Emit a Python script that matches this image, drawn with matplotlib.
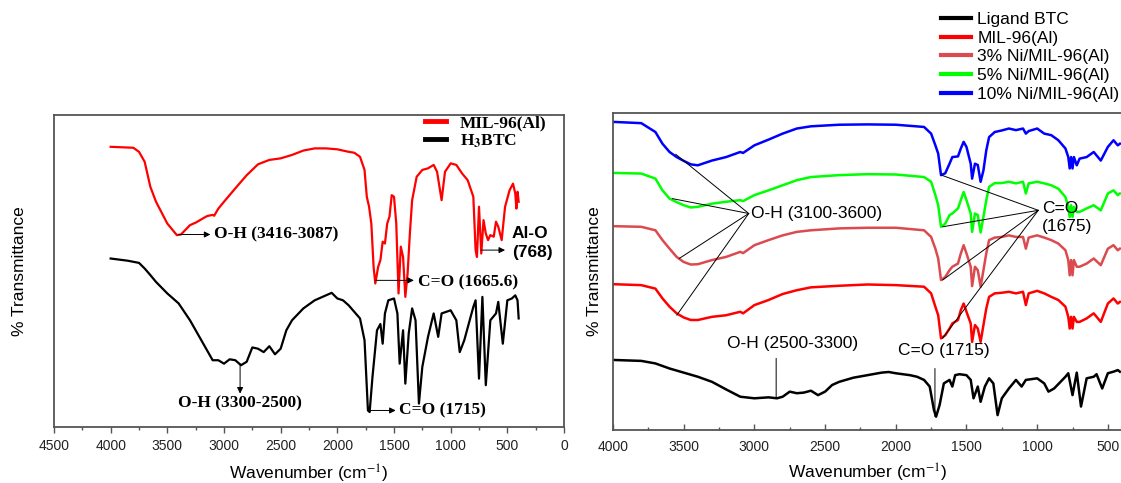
import matplotlib
matplotlib.use("Agg")
from matplotlib import pyplot as plt
from matplotlib.ticker import MultipleLocator

plt.rcParams["font.family"] = ["Liberation Sans", "DejaVu Sans"]
plt.rcParams["mathtext.fontset"] = "stix"

# left panel: MIL-96(Al) and H3BTC
mil_wn = [4000, 3800, 3750, 3700, 3650, 3600, 3500, 3416, 3380, 3300,
          3250, 3150, 3100, 3087, 3050, 3000, 2900, 2800, 2700, 2600,
          2500, 2400, 2300, 2200, 2100, 2000, 1900, 1850, 1800, 1760,
          1740, 1720, 1700, 1680, 1665, 1640, 1620, 1600, 1580, 1560,
          1540, 1520, 1500, 1480, 1460, 1440, 1420, 1400, 1380, 1360,
          1340, 1300, 1250, 1200, 1150, 1120, 1080, 1050, 1000, 950,
          900, 850, 800, 780, 768, 750, 730, 710, 690, 670,
          650, 620, 600, 580, 550, 520, 480, 450, 430, 420,
          410, 400]
mil_t = [89.8, 89.5, 88.2, 85.0, 77.0, 72.2, 65.2, 61.5, 61.7, 64.7,
         65.5, 67.6, 68.0, 67.7, 70.0, 72.2, 76.5, 80.7, 84.2, 85.6,
         86.1, 87.2, 88.6, 89.3, 89.3, 89.0, 88.2, 87.9, 86.6, 82.4,
         73.8, 70.6, 65.2, 51.3, 46.0, 51.3, 53.5, 59.4, 58.8, 65.2,
         67.4, 74.3, 73.8, 65.2, 42.8, 57.8, 54.5, 41.7, 49.2, 62.0,
         72.7, 80.2, 82.4, 82.9, 84.0, 81.8, 72.7, 81.8, 84.5, 84.0,
         81.3, 79.1, 73.8, 56.7, 54.5, 70.6, 55.6, 66.3, 62.0, 59.9,
         61.5, 61.0, 65.8, 64.2, 59.9, 70.6, 75.9, 78.0, 74.9, 70.0,
         75.4, 72.2]

btc_wn = [4000, 3850, 3750, 3700, 3650, 3600, 3500, 3400, 3300, 3200,
          3100, 3050, 3000, 2950, 2900, 2850, 2800, 2750, 2700, 2650,
          2600, 2550, 2500, 2450, 2400, 2300, 2200, 2100, 2050, 2000,
          1950, 1900, 1850, 1800, 1760, 1730, 1715, 1690, 1650, 1620,
          1600, 1580, 1550, 1500, 1470, 1450, 1420, 1400, 1370, 1340,
          1310, 1280, 1250, 1200, 1150, 1110, 1080, 1000, 950, 920,
          880, 800, 780, 750, 720, 690, 650, 600, 580, 540,
          500, 460, 430, 410, 400]
btc_t = [54.0, 53.3, 52.6, 50.8, 48.7, 46.5, 42.8, 39.6, 34.2, 27.8,
         21.4, 21.4, 20.3, 21.7, 21.4, 19.8, 20.9, 25.5, 25.1, 24.0,
         25.9, 23.3, 25.1, 31.0, 34.2, 38.0, 40.6, 42.2, 43.0, 41.2,
         40.6, 39.0, 36.9, 34.8, 27.8, 5.3, 4.8, 16.0, 31.0, 33.0,
         26.7, 36.4, 40.6, 41.2, 36.4, 20.3, 31.0, 13.9, 30.0, 38.0,
         34.2, 7.5, 19.3, 28.9, 36.4, 28.9, 36.4, 37.4, 34.2, 24.0,
         27.8, 38.5, 40.6, 15.5, 41.7, 13.4, 34.2, 36.4, 40.1, 26.7,
         40.6, 41.2, 42.2, 40.6, 34.8]

# right panel: Ni/MIL-96(Al) series share one wavenumber grid
ni_wn = [4000, 3800, 3700, 3650, 3600, 3550, 3500, 3450, 3400, 3300,
         3200, 3100, 3080, 3000, 2900, 2800, 2700, 2600, 2400, 2200,
         2000, 1800, 1750, 1720, 1700, 1680, 1650, 1620, 1600, 1560,
         1540, 1520, 1500, 1470, 1460, 1440, 1420, 1400, 1380, 1360,
         1340, 1300, 1250, 1200, 1150, 1100, 1080, 1060, 1000, 950,
         900, 850, 800, 780, 770, 760, 750, 740, 720, 700,
         650, 600, 550, 500, 460, 430, 415]
ni10_t = [97.2, 96.8, 94.0, 90.3, 87.7, 86.1, 84.9, 83.8, 83.5, 85.0,
          86.1, 87.7, 87.4, 89.8, 91.6, 93.5, 95.1, 95.8, 96.3, 96.4,
          96.3, 95.6, 93.5, 89.8, 87.2, 80.4, 81.0, 84.0, 86.1, 86.3,
          88.8, 90.9, 89.3, 84.0, 79.3, 84.0, 83.6, 78.3, 81.9, 88.2,
          92.4, 94.0, 94.5, 95.1, 94.6, 95.1, 93.5, 94.3, 95.1, 93.5,
          93.0, 91.4, 88.8, 86.1, 82.5, 86.1, 82.5, 86.1, 83.5, 85.6,
          86.1, 87.7, 85.0, 89.3, 91.4, 89.8, 90.3]
ni5_t = [81.1, 80.9, 79.3, 75.6, 73.0, 71.9, 70.9, 70.2, 70.4, 71.4,
         72.0, 72.5, 72.2, 74.1, 75.6, 77.2, 78.8, 79.8, 80.4, 80.7,
         80.6, 79.8, 78.3, 74.1, 70.9, 64.1, 65.1, 67.8, 68.3, 69.9,
         72.5, 75.1, 72.5, 68.3, 62.5, 68.3, 67.8, 62.3, 67.2, 72.5,
         76.7, 77.9, 77.9, 78.3, 77.8, 78.3, 74.6, 77.8, 78.3, 77.8,
         77.2, 76.1, 73.5, 70.4, 67.2, 70.9, 67.2, 70.4, 68.8, 68.8,
         69.9, 70.9, 69.3, 74.6, 75.6, 74.1, 74.6]
ni3_t = [64.3, 64.1, 63.0, 59.9, 57.2, 54.6, 53.0, 52.2, 52.3, 53.6,
         54.6, 56.2, 55.8, 58.3, 59.9, 61.4, 62.5, 63.0, 63.6, 63.8,
         63.8, 63.0, 60.9, 57.2, 54.1, 47.3, 48.3, 50.4, 51.5, 52.5,
         55.7, 58.3, 55.7, 51.5, 45.4, 51.5, 50.4, 45.2, 50.4, 55.7,
         59.9, 60.7, 60.9, 61.4, 60.9, 60.9, 57.2, 60.7, 61.4, 60.7,
         59.9, 58.8, 56.7, 53.6, 48.8, 53.6, 48.8, 53.6, 51.5, 51.5,
         52.5, 54.1, 52.0, 57.2, 58.3, 56.7, 57.2]
mil2_t = [46.0, 45.7, 44.6, 41.5, 38.9, 36.8, 35.5, 34.7, 34.7, 35.7,
          36.2, 37.3, 36.8, 39.4, 41.0, 42.9, 44.1, 45.0, 45.5, 45.9,
          45.7, 45.2, 43.1, 38.9, 36.2, 28.9, 29.9, 32.0, 33.6, 34.7,
          37.8, 39.9, 37.3, 33.6, 27.8, 33.1, 32.0, 27.8, 33.1, 38.3,
          42.0, 43.1, 43.3, 43.6, 43.1, 43.6, 39.4, 43.1, 43.9, 43.1,
          42.0, 41.0, 38.9, 35.7, 32.0, 35.7, 32.0, 35.7, 34.1, 34.1,
          35.2, 36.8, 34.1, 39.9, 41.5, 39.9, 40.4]

lig_wn = [4000, 3800, 3700, 3600, 3500, 3400, 3300, 3200, 3100, 3000,
          2900, 2840, 2800, 2750, 2700, 2650, 2600, 2550, 2500, 2450,
          2400, 2300, 2200, 2100, 2050, 2000, 1900, 1850, 1800, 1760,
          1730, 1715, 1690, 1660, 1620, 1600, 1580, 1550, 1500, 1470,
          1450, 1420, 1400, 1370, 1340, 1310, 1280, 1250, 1200, 1150,
          1110, 1080, 1000, 950, 920, 880, 800, 780, 750, 720,
          690, 650, 600, 580, 540, 500, 460, 430, 415]
lig_t = [22.1, 21.8, 21.0, 19.4, 18.1, 16.8, 15.2, 12.8, 10.5, 10.0,
         10.3, 10.0, 10.5, 12.1, 11.6, 11.8, 12.4, 11.0, 12.1, 14.2,
         15.2, 16.5, 17.3, 18.1, 18.3, 17.9, 17.3, 16.8, 15.8, 13.7,
         6.3, 4.2, 7.9, 14.7, 15.8, 13.7, 17.3, 17.6, 17.3, 15.8,
         10.0, 13.7, 8.9, 13.7, 16.3, 14.7, 4.7, 10.0, 13.1, 15.8,
         13.7, 15.8, 16.3, 14.7, 12.1, 13.1, 16.8, 17.9, 11.0, 18.1,
         7.4, 16.3, 16.8, 17.6, 13.1, 17.9, 18.4, 18.9, 18.4]

W, H = 1121, 483
fig = plt.figure(figsize=(W / 100, H / 100), dpi=100)
fig.patch.set_facecolor("white")

ax1 = fig.add_axes([54 / W, 1 - 427 / H, 510 / W, 312 / H])
ax2 = fig.add_axes([613 / W, 1 - 430 / H, 509 / W, 317 / H])

spine_col = "#555555"
serif_b = dict(family="Liberation Serif", weight="bold", size=12.5)

# left panel
# ==========
ax1.plot(mil_wn, mil_t, color="#ff0000", lw=1.6, label="MIL-96(Al)")
ax1.plot(btc_wn, btc_t, color="black", lw=1.6, label=r"H$_\mathbf{3}$BTC")
ax1.set_xlim(4500, 0)
ax1.set_ylim(0, 100)
ax1.xaxis.set_major_locator(MultipleLocator(500))
ax1.xaxis.set_minor_locator(MultipleLocator(250))
ax1.set_yticks([])
ax1.tick_params(axis="x", which="major", direction="out", length=4.5, width=1,
                color=spine_col, labelsize=10, pad=4, labelcolor="#222222")
ax1.tick_params(axis="x", which="minor", direction="out", length=2.5, width=1,
                color=spine_col)
leg1 = ax1.legend(loc="upper left", bbox_to_anchor=(0.728, 1.0), frameon=False,
                  prop=serif_b, handlelength=1.2, handletextpad=0.8,
                  borderpad=0, borderaxespad=0, labelspacing=0.08)
for ln in leg1.get_lines():
    ln.set_linewidth(3.5)

arrow = dict(arrowstyle="-|>", color="black", lw=0.7, mutation_scale=9,
             shrinkA=0, shrinkB=0)
ax1.annotate("", xy=(3120, 61.7), xytext=(3400, 61.7), arrowprops=arrow)
ax1.text(3090, 61.7, "O-H (3416-3087)", va="center", ha="left", **serif_b)
ax1.annotate("", xy=(1325, 47.0), xytext=(1665, 47.0), arrowprops=arrow)
ax1.text(1290, 46.5, "C=O (1665.6)", va="center", ha="left", **serif_b)
ax1.annotate("", xy=(520, 56.7), xytext=(731, 56.7), arrowprops=arrow)
ax1.text(460, 59.0, "Al-O\n(768)", va="center", ha="left", fontsize=12.5,
         fontweight="bold", linespacing=1.3)
ax1.annotate("", xy=(2858, 10.7), xytext=(2858, 20.3), arrowprops=arrow)
ax1.text(2858, 7.7, "O-H (3300-2500)", va="center", ha="center", **serif_b)
ax1.annotate("", xy=(1485, 5.3), xytext=(1716, 5.3), arrowprops=arrow)
ax1.text(1453, 5.3, "C=O (1715)", va="center", ha="left", **serif_b)

ax1.set_xlabel("Wavenumber (cm$^{-1}$)", fontsize=12.5)
ax1.xaxis.set_label_coords(0.5, -0.115)
ax1.set_ylabel("% Transmittance", fontsize=12.5)
ax1.yaxis.set_label_coords(-0.053, 0.5)

# right panel
# ===========
ax2.plot(lig_wn, lig_t, color="black", lw=1.8, label="Ligand BTC")
ax2.plot(ni_wn, mil2_t, color="#ff0000", lw=1.8, label="MIL-96(Al)")
ax2.plot(ni_wn, ni3_t, color="#db4a4e", lw=1.8, label="3% Ni/MIL-96(Al)")
ax2.plot(ni_wn, ni5_t, color="#00ff00", lw=1.8, label="5% Ni/MIL-96(Al)")
ax2.plot(ni_wn, ni10_t, color="#0000ff", lw=1.8, label="10% Ni/MIL-96(Al)")
ax2.set_xlim(4000, 400)
ax2.set_ylim(0, 100)
ax2.xaxis.set_major_locator(MultipleLocator(500))
ax2.xaxis.set_minor_locator(MultipleLocator(250))
ax2.set_yticks([])
ax2.tick_params(axis="x", which="major", direction="in", length=4.5, width=1,
                color=spine_col, labelsize=10, pad=7, labelcolor="#222222")
ax2.tick_params(axis="x", which="minor", direction="in", length=2.5, width=1,
                color=spine_col)

line = dict(arrowstyle="-", color="black", lw=0.7, shrinkA=0, shrinkB=0)
for tgt in [(3557, 87.0), (3581, 73.0), (3532, 54.1), (3549, 36.2)]:
    ax2.annotate("", xy=tgt, xytext=(3040, 68.3), arrowprops=line)
ax2.text(3025, 68.3, "O-H (3100-3600)", va="center", ha="left", fontsize=12.5)
for tgt in [(1677, 80.4), (1669, 64.1), (1669, 47.3), (1669, 28.9)]:
    ax2.annotate("", xy=tgt, xytext=(992, 69.3), arrowprops=line)
ax2.text(965, 67.0, "C=O\n(1675)", va="center", ha="left", fontsize=12.5,
         linespacing=1.25)
ax2.annotate("", xy=(2846, 10.0), xytext=(2846, 22.6), arrowprops=line)
ax2.text(2729, 27.3, "O-H (2500-3300)", va="center", ha="center", fontsize=12.5)
ax2.annotate("", xy=(1723, 4.2), xytext=(1723, 19.4), arrowprops=line)
ax2.text(1657, 25.2, "C=O (1715)", va="center", ha="center", fontsize=12.5)

ax2.set_xlabel("Wavenumber (cm$^{-1}$)", fontsize=12.5)
ax2.xaxis.set_label_coords(0.5, -0.1)
ax2.set_ylabel("% Transmittance", fontsize=12.5)
ax2.yaxis.set_label_coords(-0.022, 0.5)

for ax in (ax1, ax2):
    for sp in ax.spines.values():
        sp.set_color(spine_col)
        sp.set_linewidth(1.3)

leg2 = ax2.legend(loc="upper left", bbox_to_anchor=(941 / W, 1 - 12 / H),
                  bbox_transform=fig.transFigure, frameon=False, fontsize=12.5,
                  handlelength=1.75, handletextpad=0.35, borderpad=0,
                  borderaxespad=0, labelspacing=0.2)
for ln in leg2.get_lines():
    ln.set_linewidth(3)

fig.savefig("out.png", dpi=100, facecolor="white")
